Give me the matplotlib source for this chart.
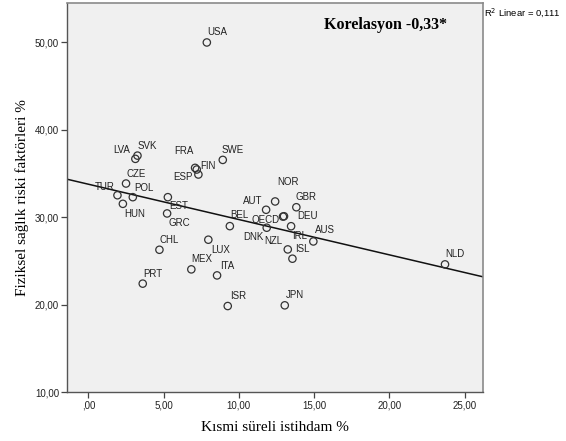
import numpy as np
import matplotlib
matplotlib.use("Agg")
import matplotlib.pyplot as plt

# ulke kodlari ve degerler
countries = ["USA", "SVK", "LVA", "FRA", "FIN", "ESP", "SWE", "CZE", "TUR", "POL",
             "HUN", "EST", "GRC", "CHL", "PRT", "MEX", "LUX", "ITA", "ISR", "JPN",
             "BEL", "NOR", "AUT", "OECD", "DEU", "DNK", "IRL", "NZL", "ISL", "GBR",
             "AUS", "NLD"]
part_time = [7.87, 3.26, 3.12, 7.09, 7.20, 7.31, 8.93, 2.50, 1.93, 2.95,
             2.29, 5.28, 5.23, 4.72, 3.61, 6.84, 7.97, 8.55, 9.26, 13.05,
             9.40, 12.41, 11.81, 12.93, 13.00, 11.85, 13.47, 13.25, 13.56, 13.82,
             14.95, 23.70]
health_risk = [50.0, 37.07, 36.70, 35.67, 35.48, 34.91, 36.58, 33.88, 32.54, 32.32,
               31.56, 32.32, 30.46, 26.31, 22.44, 24.07, 27.46, 23.38, 19.88, 19.96,
               29.01, 31.83, 30.88, 30.10, 30.14, 28.83, 29.00, 26.35, 25.29, 31.17,
               27.26, 24.64]

# SPSS dogrusal uyum cizgisi (resimden)
fit_intercept = 33.80
fit_slope = -0.4035

xticks = [0, 5, 10, 15, 20, 25]
yticks = [10, 20, 30, 40, 50]

# etiket kaymalari (piksel), varsayilan sag-ust
default_off = (10, 10)
label_off = {
    "LVA": (-14, 9), "FRA": (-11, 17), "FIN": (11, 4), "ESP": (-15, -2),
    "TUR": (-13, 8), "POL": (11, 9), "HUN": (12, -10), "EST": (11, -9),
    "GRC": (12, -10), "LUX": (12, -10), "ITA": (10, 9), "BEL": (10, 11),
    "NOR": (13, 19), "AUT": (-13, 9), "OECD": (-17, -3), "DEU": (23, 0),
    "DNK": (-13, -9), "NZL": (-14, 8), "IRL": (9, -10), "AUS": (12, 11),
}

sans = "Liberation Sans"
serif = "Liberation Serif"

fig = plt.figure(figsize=(5.66, 4.41), dpi=100)
ax = fig.add_axes([0.119, 0.110, 0.735, 0.883])
ax.set_facecolor("#f0f0f0")

xs = np.array([-1.40, 26.25])
ax.plot(xs, fit_intercept + fit_slope * xs, color="#111111", lw=1.1, zorder=2)

ax.scatter(part_time, health_risk, s=28, facecolors="none", edgecolors="#333333",
           linewidths=0.9, zorder=3)

for c, xv, yv in zip(countries, part_time, health_risk):
    dx, dy = label_off.get(c, default_off)
    ax.annotate(c, (xv, yv), xytext=(dx, dy), textcoords="offset pixels",
                ha="center", va="center", fontsize=7, family=sans, color="#222222")

ax.set_xlim(-1.40, 26.25)
ax.set_ylim(10, 54.5)
ax.set_xticks(xticks)
ax.set_yticks(yticks)
ax.set_xticklabels([(",00" if v == 0 else "%d,00" % v) for v in xticks])
ax.set_yticklabels(["%d,00" % v for v in yticks])
for lab in ax.get_xticklabels() + ax.get_yticklabels():
    lab.set_family(sans)
    lab.set_fontsize(7)
    lab.set_color("#222222")
ax.tick_params(direction="out", length=4, width=0.9, color="#444444", pad=2)

for s in ["left", "bottom"]:
    ax.spines[s].set_color("#555555")
    ax.spines[s].set_linewidth(1.0)
for s in ["top", "right"]:
    ax.spines[s].set_color("#8a8a8a")
    ax.spines[s].set_linewidth(1.2)

ax.set_xlabel("Kısmi süreli istihdam %", family=serif, fontsize=11, labelpad=7)
ax.set_ylabel("Fiziksel sağlık riski faktörleri %", family=serif, fontsize=11, labelpad=4)

ax.text(0.765, 0.943, "Korelasyon -0,33*", transform=ax.transAxes, ha="center",
        va="center", family=serif, fontsize=11.5, fontweight="bold")
fig.text(0.856, 0.972, "R$^2$ Linear = 0,111", ha="left", va="center",
         family=sans, fontsize=6.8)

fig.savefig("out.png", dpi=100)
